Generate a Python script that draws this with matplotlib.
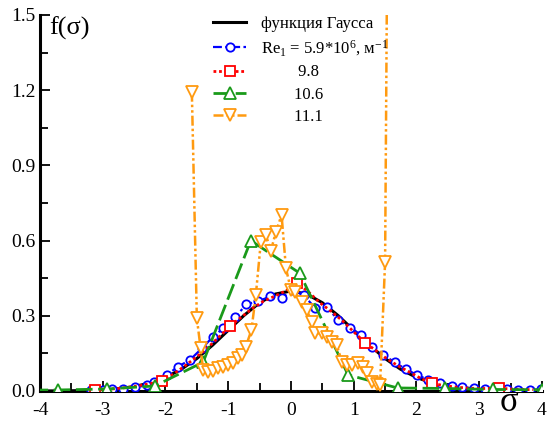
import matplotlib
matplotlib.use("Agg")
import matplotlib.pyplot as plt
from matplotlib.ticker import MultipleLocator

plt.rcParams['font.family'] = ['Liberation Serif', 'DejaVu Serif']
plt.rcParams['mathtext.fontset'] = 'custom'
plt.rcParams['mathtext.rm'] = 'Liberation Serif'
plt.rcParams['mathtext.it'] = 'Liberation Serif:italic'
plt.rcParams['axes.unicode_minus'] = False

# Gaussian curve (values read at 0.25 steps)
gauss_x = [-4.0, -3.75, -3.5, -3.25, -3.0, -2.75, -2.5, -2.25, -2.0, -1.75, -1.5, -1.25,
           -1.0, -0.75, -0.5, -0.25, 0.0, 0.25, 0.5, 0.75, 1.0, 1.25, 1.5, 1.75,
           2.0, 2.25, 2.5, 2.75, 3.0, 3.25, 3.5, 3.75, 4.0]
gauss_y = [0.0001, 0.0004, 0.0009, 0.002, 0.0044, 0.0091, 0.0175, 0.0317, 0.054, 0.0863,
           0.1295, 0.1826, 0.242, 0.3011, 0.3521, 0.3867, 0.3989, 0.3867, 0.3521, 0.3011,
           0.242, 0.1826, 0.1295, 0.0863, 0.054, 0.0317, 0.0175, 0.0091, 0.0044, 0.002,
           0.0009, 0.0004, 0.0001]

# Re1 = 5.9e6
blue_x = [-3.18, -3.0, -2.86, -2.68, -2.49, -2.30, -2.19, -1.98, -1.80, -1.61, -1.42, -1.24,
          -1.08, -0.89, -0.71, -0.52, -0.33, -0.15, 0.04, 0.20, 0.38, 0.57, 0.75, 0.94,
          1.12, 1.29, 1.47, 1.65, 1.83, 2.01, 2.19, 2.37, 2.56, 2.72, 2.91, 3.09, 3.28,
          3.44, 3.62, 3.81, 3.99]
blue_y = [0.004, 0.005, 0.006, 0.009, 0.015, 0.022, 0.037, 0.064, 0.097, 0.124, 0.170, 0.217,
          0.250, 0.294, 0.346, 0.358, 0.377, 0.372, 0.403, 0.383, 0.332, 0.336, 0.283, 0.253,
          0.223, 0.177, 0.144, 0.115, 0.087, 0.064, 0.044, 0.032, 0.020, 0.015, 0.011, 0.008,
          0.007, 0.007, 0.005, 0.004, 0.007]

# 9.8
red_x = [-3.12, -2.94, -2.76, -2.58, -2.40, -2.23, -2.05, -1.87, -1.69, -1.51, -1.33, -1.15,
         -0.97, -0.79, -0.61, -0.44, -0.26, -0.08, 0.10, 0.28, 0.46, 0.64, 0.82, 1.00,
         1.18, 1.36, 1.53, 1.71, 1.89, 2.07, 2.25, 2.43, 2.61, 2.79, 2.97, 3.15, 3.32,
         3.50, 3.68, 3.86]
red_y = [0.004, 0.006, 0.010, 0.015, 0.022, 0.030, 0.040, 0.068, 0.100, 0.135, 0.172, 0.215,
         0.259, 0.295, 0.330, 0.358, 0.378, 0.400, 0.432, 0.395, 0.352, 0.318, 0.280, 0.236,
         0.193, 0.160, 0.128, 0.100, 0.075, 0.050, 0.030, 0.022, 0.016, 0.012, 0.010, 0.010,
         0.011, 0.008, 0.006, 0.005]

# 10.6
green_x = [-4.49, -3.71, -2.93, -2.17, -1.40, -0.64, 0.14, 0.91, 1.70, 2.46, 3.22, 4.0]
green_y = [0.003, 0.004, 0.008, 0.020, 0.115, 0.600, 0.470, 0.064, 0.012, 0.010, 0.006, 0.005]

# 11.1
orange_x = [-1.58, -1.50, -1.44, -1.40, -1.32, -1.24, -1.16, -1.08, -1.00, -0.92, -0.84,
            -0.78, -0.72, -0.63, -0.56, -0.48, -0.40, -0.32, -0.24, -0.15, -0.08, 0.00,
            0.06, 0.17, 0.25, 0.33, 0.38, 0.49, 0.57, 0.65, 0.73, 0.81, 0.89, 0.97, 1.07,
            1.15, 1.21, 1.29, 1.37, 1.42, 1.50, 1.54]
orange_y = [1.194, 0.290, 0.170, 0.084, 0.077, 0.081, 0.090, 0.097, 0.104, 0.110, 0.130,
            0.144, 0.177, 0.243, 0.383, 0.596, 0.622, 0.560, 0.635, 0.702, 0.489, 0.403,
            0.396, 0.356, 0.323, 0.276, 0.230, 0.230, 0.217, 0.197, 0.183, 0.117, 0.104,
            0.104, 0.110, 0.097, 0.071, 0.037, 0.028, 0.024, 0.516, 2.0]

labels = ['функция Гаусса',
          'Re$_1$ = 5.9*10$^6$, м$^{-1}$',
          '         9.8',
          '        10.6',
          '        11.1']

fig = plt.figure(figsize=(5.5, 4.21), dpi=100)
ax = fig.add_axes([0.0727, 0.0713, 0.9127, 0.8931])

ax.plot(gauss_x, gauss_y, color='black', lw=2.2, label=labels[0], zorder=2)
ax.plot(blue_x, blue_y, color='#0000ff', lw=1.6, dashes=(4, 1.5, 1.2, 1.5),
        marker='o', ms=6, mfc='white', mec='#0000ff', mew=1.3, label=labels[1], zorder=3)
ax.plot(red_x, red_y, color='#ff0000', lw=2.0, dashes=(1, 1),
        marker='s', ms=7.5, mfc='white', mec='#ff0000', mew=1.3, markevery=6,
        label=labels[2], zorder=4)
ax.plot(green_x, green_y, color='#1a9a1a', lw=2.0, dashes=(6, 2),
        marker='^', ms=8, mfc='white', mec='#1a9a1a', mew=1.3, label=labels[3], zorder=4)
ax.plot(orange_x, orange_y, color='#ff9a10', lw=1.8, dashes=(4, 1.2, 1, 1.2, 1, 1.2),
        marker='v', ms=8, mfc='white', mec='#ff9a10', mew=1.3, label=labels[4], zorder=5)

ax.set_xlim(-4, 4)
ax.set_ylim(0, 1.5)
ax.xaxis.set_major_locator(MultipleLocator(1))
ax.xaxis.set_minor_locator(MultipleLocator(0.5))
ax.yaxis.set_major_locator(MultipleLocator(0.3))
ax.yaxis.set_minor_locator(MultipleLocator(0.15))
ax.set_yticklabels([f'{v:.1f}' for v in ax.get_yticks()])
ax.tick_params(which='both', direction='in', width=1.3, labelsize=14,
               top=False, right=False)
ax.tick_params(which='major', length=7)
ax.tick_params(which='minor', length=6)
ax.tick_params(axis='x', pad=8)
ax.tick_params(axis='y', pad=3)
for s in ['top', 'right']:
    ax.spines[s].set_visible(False)
for s in ['left', 'bottom']:
    ax.spines[s].set_linewidth(2.2)

ax.text(0.018, 0.995, 'f(σ)', transform=ax.transAxes, fontsize=19, va='top', ha='left')
fig.text(509 / 550, 0.004, 'σ', fontsize=25, va='bottom', ha='center')

ax.legend(loc='upper left', bbox_to_anchor=(213 / 550, 1 - 16 / 421),
          bbox_transform=fig.transFigure, frameon=False, fontsize=12,
          handlelength=2.0, handletextpad=0.9, labelspacing=0.38, borderpad=0,
          borderaxespad=0)

fig.savefig('out.png', dpi=100)
